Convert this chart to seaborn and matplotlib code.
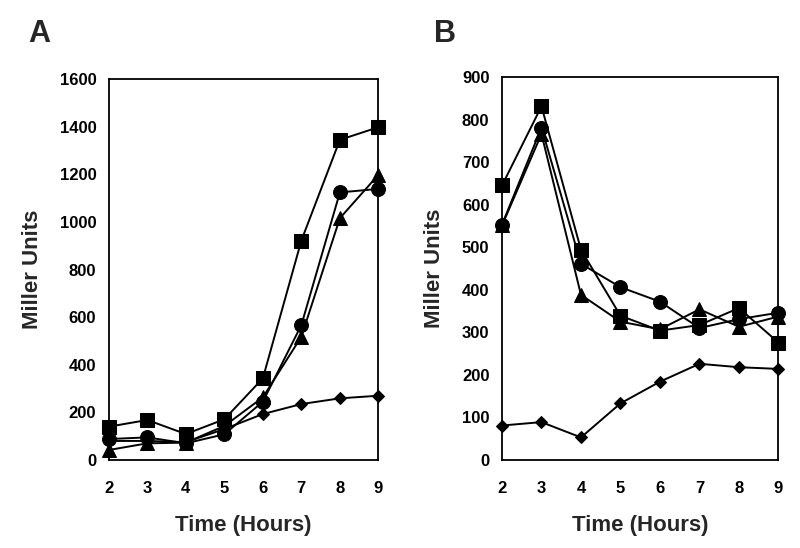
import matplotlib
matplotlib.use("Agg")
import matplotlib.pyplot as plt
import seaborn as sns
import pandas as pd

hours = [2, 3, 4, 5, 6, 7, 8, 9]

a_square = [140, 168, 109, 171, 343, 922, 1345, 1398]
a_circle = [88, 95, 70, 108, 245, 567, 1124, 1139]
a_triangle = [42, 70, 73, 143, 263, 518, 1016, 1198]
a_diamond = [80, 80, 75, 130, 193, 235, 259, 270]

b_square = [645, 831, 494, 339, 304, 317, 357, 276]
b_circle = [553, 781, 461, 406, 372, 310, 331, 346]
b_triangle = [551, 766, 388, 325, 307, 354, 313, 337]
b_diamond = [81, 89, 53, 133, 184, 226, 218, 214]

panel_labels = ["A", "B"]
x_label = "Time (Hours)"
y_label = "Miller Units"

sns.set_style("white")
plt.rcParams['font.family'] = ['Liberation Sans', 'DejaVu Sans']
plt.rcParams['font.weight'] = 'bold'

fig = plt.figure(figsize=(8, 5.48), dpi=100)
axA = fig.add_axes([0.136, 0.1606, 0.337, 0.695])
axB = fig.add_axes([0.6275, 0.1606, 0.3455, 0.699])

markers = {"square": ("s", 10.5), "circle": ("o", 10), "triangle": ("^", 10), "diamond": ("D", 6.5)}

def draw(ax, series, ymax, ystep):
    for name, vals in series:
        df = pd.DataFrame({"Time": hours, "Units": vals})
        m, ms = markers[name]
        sns.lineplot(data=df, x="Time", y="Units", ax=ax, color="black",
                     marker=m, markersize=ms, markeredgecolor="black",
                     markerfacecolor="black", linewidth=1.4, clip_on=False,
                     zorder=3)
    ax.set_xlim(2, 9)
    ax.set_ylim(0, ymax)
    ax.set_xticks(hours)
    ax.set_yticks(range(0, ymax + 1, ystep))
    ax.tick_params(direction="in", length=5, width=1.2, labelsize=12,
                   pad=9, colors="black")
    ax.tick_params(axis="x", pad=15)
    for lab in ax.get_xticklabels() + ax.get_yticklabels():
        lab.set_fontweight("bold")
    for sp in ax.spines.values():
        sp.set_visible(True)
        sp.set_color("black")
        sp.set_linewidth(1.3)
    ax.set_xlabel(x_label, fontsize=16, fontweight="bold", labelpad=14)
    ax.set_ylabel(y_label, fontsize=16, fontweight="bold", labelpad=12)
    ax.grid(False)

draw(axA, [("square", a_square), ("circle", a_circle), ("triangle", a_triangle),
           ("diamond", a_diamond)], 1600, 200)
draw(axB, [("square", b_square), ("circle", b_circle), ("triangle", b_triangle),
           ("diamond", b_diamond)], 900, 100)

fig.text(0.035, 0.91, panel_labels[0], fontsize=22, fontweight="bold", ha="left", va="bottom")
fig.text(0.543, 0.91, panel_labels[1], fontsize=22, fontweight="bold", ha="left", va="bottom")

fig.savefig("out.png", dpi=100)
